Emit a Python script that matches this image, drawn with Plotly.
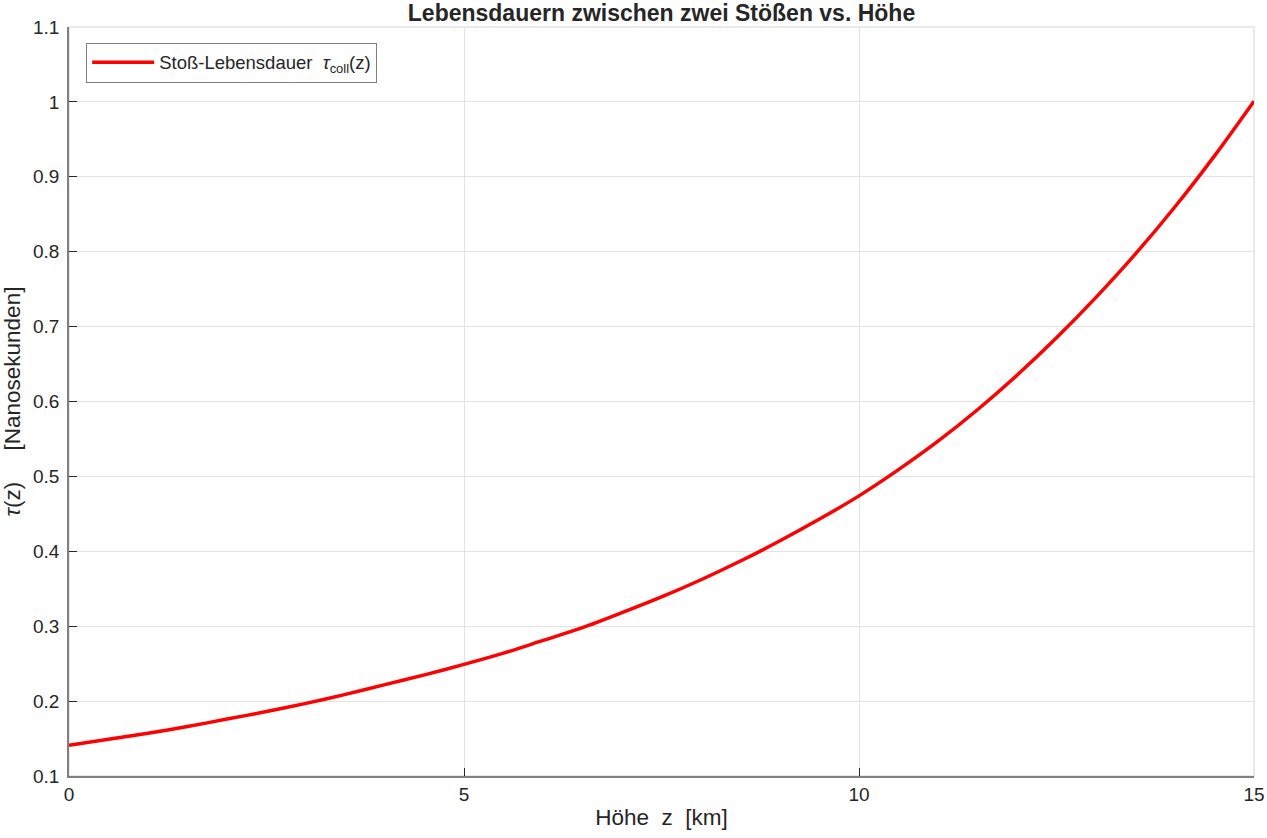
"""Collision lifetime vs. altitude, MATLAB-style line chart."""

import plotly.graph_objects as go

# Values (every 0.5 km)
hoehe_km = [0, 0.5, 1, 1.5, 2, 2.5, 3, 3.5, 4, 4.5, 5, 5.5, 6, 6.5, 7, 7.5,
            8, 8.5, 9, 9.5, 10, 10.5, 11, 11.5, 12, 12.5, 13, 13.5, 14, 14.5, 15]
tau_ns = [0.141, 0.149, 0.157, 0.166, 0.176, 0.186, 0.197, 0.209, 0.222,
          0.235, 0.249, 0.264, 0.281, 0.298, 0.318, 0.339, 0.362, 0.387,
          0.414, 0.443, 0.474, 0.509, 0.547, 0.589, 0.635, 0.685, 0.739,
          0.797, 0.860, 0.928, 1.001]

x_ticks = [0, 5, 10, 15]
y_ticks = [0.1, 0.2, 0.3, 0.4, 0.5, 0.6, 0.7, 0.8, 0.9, 1.0, 1.1]
y_tick_text = ["0.1", "0.2", "0.3", "0.4", "0.5", "0.6", "0.7", "0.8", "0.9", "1", "1.1"]

FONT = "Liberation Sans, Arial, Helvetica, sans-serif"
TEXT = "#262626"
AXIS = "#808080"
GRID = "#e3e3e3"

W, H = 1267, 838
ML, MR, MT, MB = 69, 13, 27, 62

fig = go.Figure()

fig.add_trace(go.Scatter(
    x=hoehe_km,
    y=tau_ns,
    mode="lines",
    line=dict(color="#ff0000", width=3.5, shape="spline", smoothing=0.8),
    name="Stoß-Lebensdauer  <i>τ</i><sub>coll</sub>(z)",
    showlegend=True,
))

# light box around the plot area (top/right edges)
fig.add_shape(
    type="rect", xref="paper", yref="paper", x0=0, y0=0, x1=1, y1=1,
    line=dict(color=GRID, width=1.5), layer="below",
)

fig.update_layout(
    width=W,
    height=H,
    margin=dict(l=ML, r=MR, t=MT, b=MB),
    paper_bgcolor="white",
    plot_bgcolor="white",
    font=dict(family=FONT, size=19, color=TEXT),
    title=dict(
        text="<b>Lebensdauern zwischen zwei Stößen vs. Höhe</b>",
        x=(ML + (W - ML - MR) / 2) / W, xanchor="center",
        y=1 - 13 / H, yanchor="middle",
        font=dict(family=FONT, size=23, color=TEXT),
    ),
    showlegend=True,
    legend=dict(
        x=0.0145, y=0.979, xanchor="left", yanchor="top",
        bgcolor="white", bordercolor="#7f7f7f", borderwidth=1,
        font=dict(family=FONT, size=18.5, color=TEXT),
        itemwidth=62,
    ),
    xaxis=dict(
        range=[0, 15],
        tickvals=x_ticks,
        ticks="inside", ticklen=8, tickcolor=TEXT, tickwidth=1,
        showline=True, linecolor=AXIS, linewidth=1.5,
        showgrid=True, gridcolor=GRID, gridwidth=1,
        zeroline=False, automargin=False,
        tickfont=dict(size=19, color=TEXT),
        title=dict(text="Höhe  z  [km]", font=dict(size=22.5, color=TEXT), standoff=6),
    ),
    yaxis=dict(
        range=[0.1, 1.1],
        tickvals=y_ticks,
        ticktext=y_tick_text,
        ticks="inside", ticklen=8, tickcolor=TEXT, tickwidth=1,
        showline=True, linecolor=AXIS, linewidth=1.5,
        showgrid=True, gridcolor=GRID, gridwidth=1,
        zeroline=False, automargin=False,
        ticklabelstandoff=4,
        tickfont=dict(size=19, color=TEXT),
        title=dict(text="<i>τ</i>(z)     [Nanosekunden]", font=dict(size=22.5, color=TEXT), standoff=6),
    ),
)

# drop the default page margin so the figure fills the window exactly
fig.write_html(
    "out.html",
    config={"displayModeBar": False},
    post_script="document.body.style.margin='0';document.body.style.overflow='hidden';",
)
